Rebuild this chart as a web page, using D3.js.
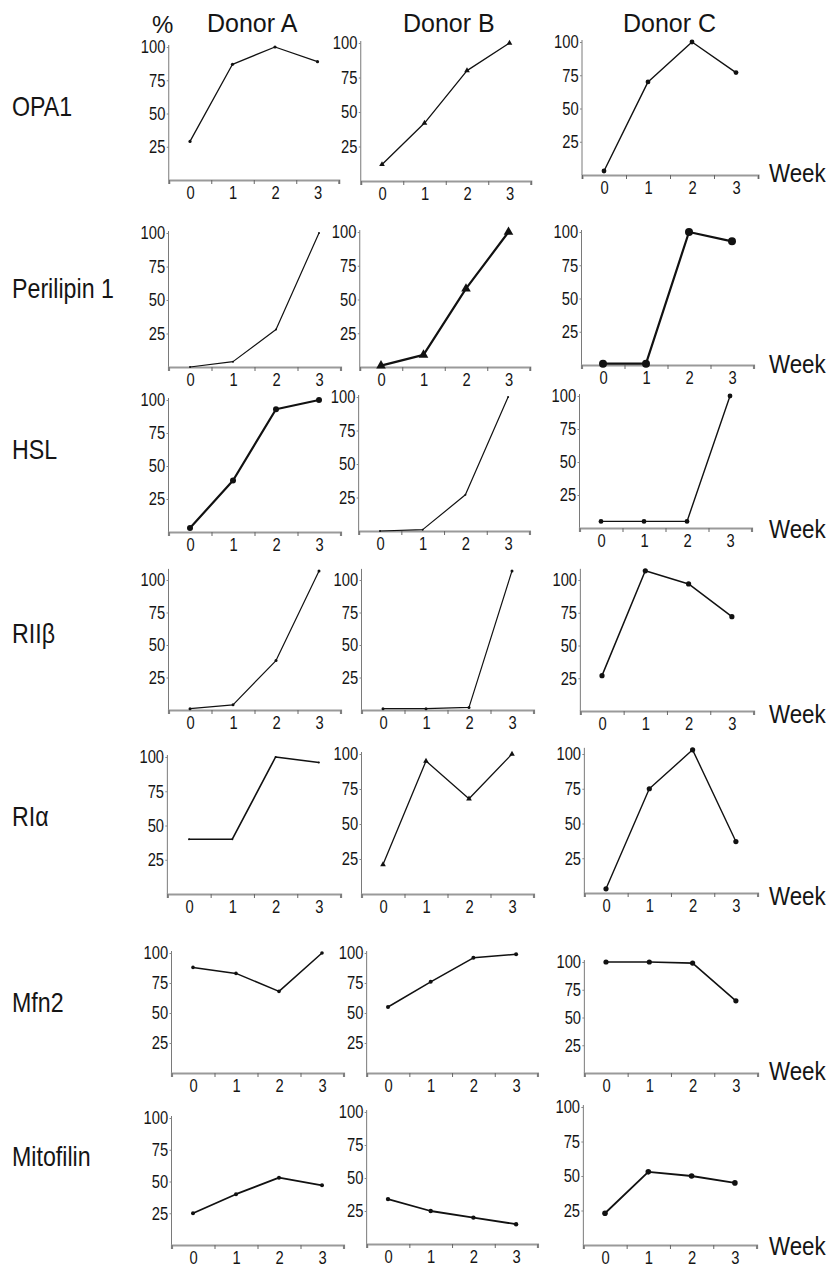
<!DOCTYPE html>
<html>
<head>
<meta charset="utf-8">
<script src="https://cdn.jsdelivr.net/npm/d3@7"></script>
<style>
  body { margin: 0; background: #fff; }
  text { font-family: "Liberation Sans", Arial, sans-serif; fill: #151515; }
</style>
</head>
<body>
<div id="fig"></div>
<script>
// weeks of differentiation
var weeks = [0, 1, 2, 3];
var weekLabels = ["0", "1", "2", "3"];
var yTicks = [25, 50, 75, 100];
var donors = ["Donor A", "Donor B", "Donor C"];
var proteins = ["OPA1", "Perilipin 1", "HSL", "RIIβ", "RIα", "Mfn2", "Mitofilin"];

// % of maximum, one list per donor (A, B, C)
var opa1       = [[29, 87, 100, 89], [12, 42, 80, 100], [3, 70, 100, 77]];
var perilipin1 = [[0, 4, 28, 100],   [1, 9, 58, 100],   [1, 1, 100, 93]];
var hsl        = [[3, 39, 93, 100],  [0, 1, 27, 100],   [5, 5, 5, 100]];
var riib       = [[1, 4, 38, 107],   [1, 1, 2, 107],    [27, 107, 97, 72]];
var ria        = [[40, 40, 100, 96], [21, 95, 68, 100], [3, 75, 103, 37]];
var mfn2       = [[88, 83, 68, 100], [55, 76, 96, 99],  [100, 100, 99, 65]];
var mitofilin  = [[25, 40, 53, 47],  [34, 25, 20, 15],  [23, 53, 50, 45]];
var series = [opa1, perilipin1, hsl, riib, ria, mfn2, mitofilin];

// panel geometry (the scan is a bit uneven): [x of week 0, week step, y of 100, y of 0]
var layout = [
  [[190, 42.5, 47, 180],   [382, 42.5, 43, 181],   [604, 44, 42, 175]],
  [[190, 43, 233, 367],    [381, 42.5, 232, 367],  [603, 43, 232, 365]],
  [[190, 43, 400, 532],    [380, 42.7, 397, 531],  [601, 43, 396, 528]],
  [[190, 43, 580, 710],    [383, 43, 580, 710],    [602, 43.3, 580, 711]],
  [[189, 43.3, 757, 894],  [383, 43, 754, 894],    [606, 43.3, 754, 893]],
  [[193, 43, 953, 1073],   [388, 42.7, 953, 1073], [606, 43.3, 962, 1073]],
  [[193, 43, 1118, 1245],  [388, 42.7, 1112, 1244],[605, 43.3, 1107, 1245]]
];
var rowLabelY = [116, 298, 459, 643, 826, 1012, 1166];
var weekY = [182, 373, 538, 723, 905, 1080, 1255];

// marker shape, marker size, line width
var marks = [
  [["dot", 1.6, 1.3], ["tri", 14, 1.3], ["dot", 2.4, 1.4]],
  [["dot", 1, 1.2],   ["tri", 40, 2.2], ["dot", 4, 2.2]],
  [["dot", 3, 2.2],   ["dot", 1, 1.2],  ["dot", 2.4, 1.4]],
  [["dot", 1.5, 1.2], ["dot", 1.5, 1.2],["dot", 2.6, 1.5]],
  [["dot", 1, 1.6],   ["tri", 14, 1.3], ["dot", 2.6, 1.4]],
  [["dot", 1.8, 1.5], ["dot", 2, 1.5],  ["dot", 2.6, 1.6]],
  [["dot", 2, 1.8],   ["dot", 2.2, 1.8],["dot", 2.8, 1.8]]
];

var W = 834, H = 1267;
var svg = d3.select("#fig").append("svg")
  .attr("width", W)
  .attr("height", H);

svg.append("text").attr("x", 152).attr("y", 33)
  .style("font-size", "24px").text("%");

var donorX = [207, 403, 623];
svg.selectAll(".donor")
  .data(donors)
  .enter()
    .append("text")
    .attr("class", "donor")
    .attr("x", function (d, i) { return donorX[i]; })
    .attr("y", 32)
    .style("font-size", "25px")
    .text(function (d) { return d; });

// row labels are a bit narrow in the scan
svg.selectAll(".protein")
  .data(proteins)
  .enter()
    .append("text")
    .attr("class", "protein")
    .attr("transform", function (d, i) { return "translate(12," + rowLabelY[i] + ") scale(0.86,1)"; })
    .style("font-size", "27px")
    .text(function (d) { return d; });

svg.selectAll(".week")
  .data(weekY)
  .enter()
    .append("text")
    .attr("class", "week")
    .attr("transform", function (d) { return "translate(769," + d + ") scale(0.86,1)"; })
    .style("font-size", "26px")
    .text("Week");

proteins.forEach(function (p, r) {
  donors.forEach(function (dn, c) {
    panel(r, c);
  });
});

function panel(r, c) {
  var geo = layout[r][c];
  var vals = series[r][c];
  var mk = marks[r][c];
  var step = geo[1];

  var x = d3.scaleLinear()
    .domain([-0.5, 3.5])
    .range([geo[0] - step / 2, geo[0] + 3.5 * step]);
  var y = d3.scaleLinear()
    .domain([0, 100])
    .range([geo[3], geo[2]]);

  var g = svg.append("g");

  // y axis: line reaches the highest point when it goes over 100
  var top = Math.max(100, d3.max(vals));
  g.append("line")
    .attr("x1", x(-0.5)).attr("x2", x(-0.5))
    .attr("y1", y(0)).attr("y2", y(top) - 2)
    .attr("stroke", "#7a7a7a")
    .attr("stroke-width", 1);

  var ya = g.append("g")
    .attr("transform", "translate(" + x(-0.5) + ",0)")
    .call(d3.axisLeft(y).tickValues(yTicks).tickSize(2).tickPadding(2));
  ya.select(".domain").remove();
  ya.selectAll("line").attr("stroke", "#888");
  ya.selectAll("text")
    .style("font-size", "18px")
    .attr("fill", "#1a1a1a")
    .attr("transform", "scale(0.82,1)");

  // x axis: thick grey line, small ticks between the weeks
  var xa = g.append("g")
    .attr("transform", "translate(0," + y(0) + ")")
    .call(d3.axisBottom(x).tickValues([-0.5, 0.5, 1.5, 2.5, 3.5]).tickSize(4).tickFormat(""));
  xa.select(".domain").attr("stroke", "#9a9a9a").attr("stroke-width", 2.2);
  xa.selectAll("line").attr("stroke", "#666");

  var xl = g.append("g")
    .attr("transform", "translate(0," + y(0) + ")")
    .call(d3.axisBottom(x).tickValues(weeks).tickSize(0).tickPadding(6)
      .tickFormat(function (d, i) { return weekLabels[i]; }));
  xl.select(".domain").remove();
  xl.selectAll("text")
    .style("font-size", "18px")
    .attr("fill", "#1a1a1a")
    .attr("transform", "scale(0.82,1)");

  var pts = weeks.map(function (w, i) { return [w, vals[i]]; });

  var line = d3.line()
    .x(function (d) { return x(d[0]); })
    .y(function (d) { return y(d[1]); });

  g.append("path")
    .datum(pts)
    .attr("d", line)
    .attr("fill", "none")
    .attr("stroke", "#111")
    .attr("stroke-width", mk[2])
    .attr("stroke-linejoin", "round");

  if (mk[0] == "tri") {
    g.selectAll(".m")
      .data(pts)
      .enter()
        .append("path")
        .attr("class", "m")
        .attr("transform", function (d) { return "translate(" + x(d[0]) + "," + y(d[1]) + ")"; })
        .attr("d", d3.symbol().type(d3.symbolTriangle).size(mk[1]))
        .attr("fill", "#111");
  } else {
    g.selectAll(".m")
      .data(pts)
      .enter()
        .append("circle")
        .attr("class", "m")
        .attr("cx", function (d) { return x(d[0]); })
        .attr("cy", function (d) { return y(d[1]); })
        .attr("r", mk[1])
        .attr("fill", "#111");
  }
}
</script>
</body>
</html>
